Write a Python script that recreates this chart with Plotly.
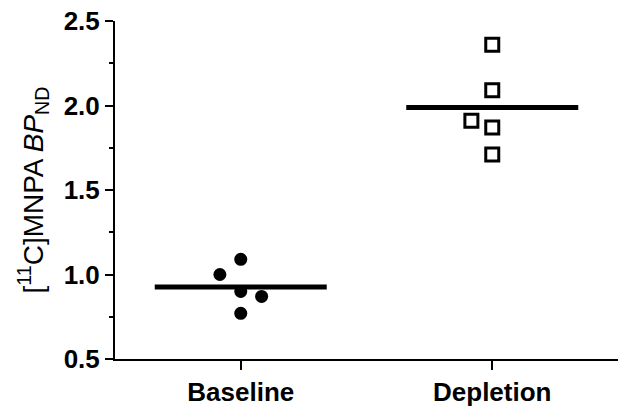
import numpy as np
import plotly.graph_objects as go

categories = ["Baseline", "Depletion"]
baseline_values = [1.09, 1.00, 0.90, 0.87, 0.77]
baseline_offsets = [0.0, -0.083, 0.0, 0.083, 0.0]
depletion_values = [2.36, 2.09, 1.91, 1.87, 1.71]
depletion_offsets = [0.0, 0.0, -0.083, 0.0, 0.0]
y_ticks = [0.5, 1.0, 1.5, 2.0, 2.5]

FONT = "Liberation Sans, Arial, sans-serif"

fig = go.Figure()

fig.add_trace(go.Scatter(
    x=[0 + o for o in baseline_offsets], y=baseline_values, mode="markers",
    marker=dict(symbol="circle", size=13, color="black", line=dict(width=0)),
    showlegend=False))
fig.add_trace(go.Scatter(
    x=[1 + o for o in depletion_offsets], y=depletion_values, mode="markers",
    marker=dict(symbol="square-open", size=13, color="black", line=dict(width=3, color="black")),
    showlegend=False))

half = 0.342
for i, vals in enumerate([baseline_values, depletion_values]):
    m = float(np.mean(vals))
    fig.add_trace(go.Scatter(x=[i - half, i + half], y=[m, m], mode="lines",
                             line=dict(color="black", width=5), showlegend=False))

fig.update_layout(
    width=618, height=407,
    margin=dict(l=115, r=0, t=21, b=48, pad=0),
    plot_bgcolor="white", paper_bgcolor="white",
    font=dict(family=FONT, color="black"),
)
fig.update_xaxes(
    range=[-0.5, 1.5], tickvals=[0, 1], ticktext=categories, automargin=False,
    showline=True, linecolor="black", linewidth=2, showgrid=False, zeroline=False,
    ticks="outside", ticklen=9, tickwidth=2, tickcolor="black",
    tickfont=dict(family=FONT, size=26, color="black", weight="bold"),
)
fig.update_yaxes(
    range=[0.5, 2.5], tickvals=y_ticks, tickformat=".1f", automargin=False,
    showline=True, linecolor="black", linewidth=2, showgrid=False, zeroline=False,
    ticks="outside", ticklen=8, tickwidth=2, tickcolor="black",
    minor=dict(dtick=0.25, ticks="outside", ticklen=4, tickwidth=2, tickcolor="black", showgrid=False),
    tickfont=dict(family=FONT, size=26, color="black", weight="bold"),
    title=dict(text="[<sup>11</sup>C]MNPA <i>BP</i><sub>ND</sub>",
               font=dict(family=FONT, size=28, color="black"), standoff=12),
)

fig.write_html("out.html", config={"displayModeBar": False},
               post_script="document.body.style.margin='0px';document.body.style.overflow='hidden';")
